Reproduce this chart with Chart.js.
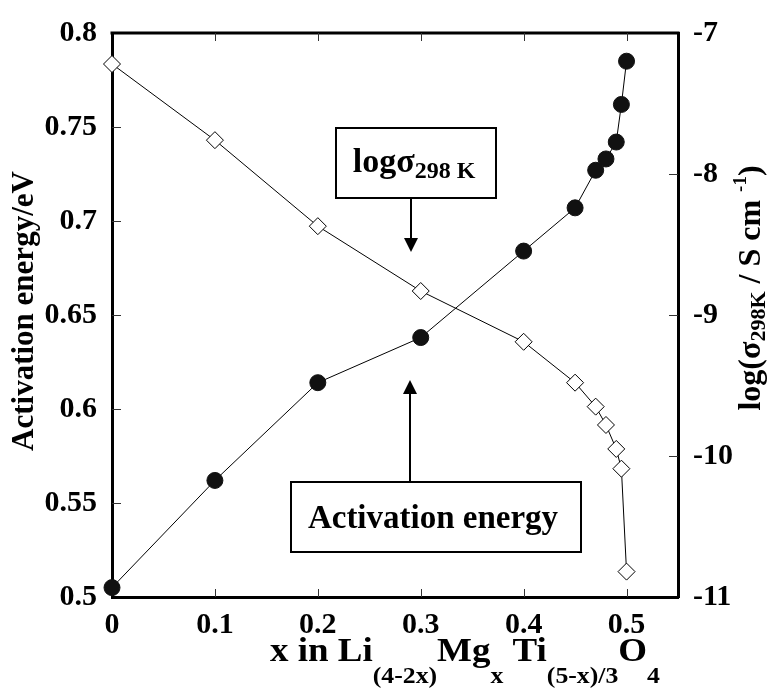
<!DOCTYPE html>
<html>
<head>
<meta charset="utf-8">
<script src="https://cdn.jsdelivr.net/npm/chart.js@4.4.0/dist/chart.umd.min.js"></script>
<style>
  html, body { margin: 0; padding: 0; background: #fff; }
  #wrap { width: 771px; height: 689px; }
</style>
</head>
<body>
<div id="wrap"><canvas id="chart" width="771" height="689"></canvas></div>
<script>
// ---- data ----
const xValues = [0, 0.1, 0.2, 0.3, 0.4, 0.45, 0.47, 0.48, 0.49, 0.495, 0.5];
const activationEnergy = [0.505, 0.562, 0.614, 0.638, 0.684, 0.707, 0.727, 0.733, 0.742, 0.762, 0.785];
const logSigma = [-7.22, -7.76, -8.37, -8.83, -9.19, -9.48, -9.65, -9.78, -9.95, -10.09, -10.82];

const xTicks = [0, 0.1, 0.2, 0.3, 0.4, 0.5];
const leftTicks = [0.5, 0.55, 0.6, 0.65, 0.7, 0.75, 0.8];
const rightTicks = [-11, -10, -9, -8, -7];

const SERIF = '"Liberation Serif", "Times New Roman", serif';
const font = (size) => 'bold ' + size + 'px ' + SERIF;

// draw a run of text pieces [text, size, baseline shift], centred on x
function drawRuns(ctx, runs, x, y, stretch) {
  stretch = stretch || 1;
  let w = 0;
  runs.forEach(r => { ctx.font = font(r[1]); w += ctx.measureText(r[0]).width; });
  ctx.save();
  ctx.translate(x, y);
  ctx.scale(stretch, 1);
  let cx = -w / 2;
  ctx.textAlign = 'left';
  ctx.textBaseline = 'alphabetic';
  runs.forEach(r => {
    ctx.font = font(r[1]);
    ctx.fillText(r[0], cx, r[2]);
    cx += ctx.measureText(r[0]).width;
  });
  ctx.restore();
}

function arrow(ctx, x, y0, y1) {
  const dir = y1 > y0 ? 1 : -1;
  ctx.beginPath();
  ctx.moveTo(x, y0);
  ctx.lineTo(x, y1 - dir * 12);
  ctx.lineWidth = 2;
  ctx.stroke();
  ctx.beginPath();
  ctx.moveTo(x, y1);
  ctx.lineTo(x - 7, y1 - dir * 14);
  ctx.lineTo(x + 7, y1 - dir * 14);
  ctx.closePath();
  ctx.fill();
}

const decorations = {
  id: 'decorations',
  afterDraw(chart) {
    const ctx = chart.ctx;
    const a = chart.chartArea;
    const sx = chart.scales.x, sy = chart.scales.y, sy1 = chart.scales.y1;
    ctx.save();
    ctx.strokeStyle = '#000';
    ctx.fillStyle = '#000';

    // top frame line
    ctx.lineWidth = 3;
    ctx.beginPath();
    ctx.moveTo(a.left - 1.5, a.top);
    ctx.lineTo(a.right + 1.5, a.top);
    ctx.stroke();

    // inward tick marks
    ctx.lineWidth = 1;
    ctx.strokeStyle = '#333';
    ctx.beginPath();
    xTicks.slice(1).forEach(v => {
      const px = Math.round(sx.getPixelForValue(v)) + 0.5;
      ctx.moveTo(px, a.bottom); ctx.lineTo(px, a.bottom - 8);
      ctx.moveTo(px, a.top); ctx.lineTo(px, a.top + 8);
    });
    leftTicks.slice(1, -1).forEach(v => {
      const py = Math.round(sy.getPixelForValue(v)) + 0.5;
      ctx.moveTo(a.left, py); ctx.lineTo(a.left + 9, py);
    });
    rightTicks.slice(1, -1).forEach(v => {
      const py = Math.round(sy1.getPixelForValue(v)) + 0.5;
      ctx.moveTo(a.right, py); ctx.lineTo(a.right - 9, py);
    });
    ctx.stroke();
    ctx.strokeStyle = '#000';

    // left axis title
    ctx.save();
    ctx.translate(25, 311);
    ctx.rotate(-Math.PI / 2);
    ctx.textBaseline = 'middle';
    ctx.textAlign = 'center';
    ctx.font = font(31);
    ctx.fillText('Activation energy/eV', 0, 0);
    ctx.restore();

    // right axis title
    ctx.save();
    ctx.translate(760, 288);
    ctx.rotate(-Math.PI / 2);
    drawRuns(ctx, [
      ['log(\u03c3', 32, 0],
      ['298K', 22, 5],
      [' / S cm ', 32, 0],
      ['-1', 19, -14],
      [')', 32, 0]
    ], 0, 0);
    ctx.restore();

    // x axis title
    drawRuns(ctx, [
      ['x in Li', 33, 0],
      ['(4-2x)', 23, 22],
      ['Mg', 33, 0],
      ['x', 23, 22],
      [' Ti', 33, 0],
      ['(5-x)/3', 23, 22],
      ['O', 33, 0],
      ['4', 23, 22]
    ], 465, 661, 1.12);

    // annotation: log sigma box
    ctx.lineWidth = 2;
    ctx.strokeRect(336, 128, 160, 70);
    drawRuns(ctx, [['log\u03c3', 34, 0], ['298 K', 24, 6]], 414, 172);
    arrow(ctx, 411, 198, 252);

    // annotation: activation energy box
    ctx.strokeRect(291, 482, 290, 70);
    ctx.font = font(33);
    ctx.textAlign = 'center';
    ctx.textBaseline = 'alphabetic';
    ctx.fillText('Activation energy', 433, 528);
    arrow(ctx, 410, 482, 380);

    ctx.restore();
  }
};

const tickFont = { family: SERIF, size: 30, weight: 'bold' };

new Chart(document.getElementById('chart'), {
  type: 'scatter',
  data: {
    datasets: [
      {
        label: 'Activation energy',
        data: xValues.map((x, i) => ({ x: x, y: activationEnergy[i] })),
        yAxisID: 'y',
        showLine: true,
        borderColor: '#000',
        borderWidth: 1,
        pointStyle: 'circle',
        pointRadius: 8,
        pointBackgroundColor: '#111',
        pointBorderColor: '#111',
        clip: false
      },
      {
        label: 'log sigma 298 K',
        data: xValues.map((x, i) => ({ x: x, y: logSigma[i] })),
        yAxisID: 'y1',
        showLine: true,
        borderColor: '#000',
        borderWidth: 1,
        pointStyle: 'rectRot',
        pointRadius: 8.5,
        pointBackgroundColor: '#fff',
        pointBorderColor: '#000',
        pointBorderWidth: 1,
        clip: false
      }
    ]
  },
  options: {
    responsive: false,
    animation: false,
    layout: { padding: { top: 29, left: 0, right: 0, bottom: 0 } },
    plugins: { legend: { display: false }, tooltip: { enabled: false } },
    scales: {
      x: {
        type: 'linear',
        min: 0, max: 0.55,
        afterBuildTicks: s => { s.ticks = xTicks.map(v => ({ value: v })); },
        afterFit: s => { s.height = 92; },
        grid: { display: false, drawTicks: false },
        border: { display: true, color: '#000', width: 3 },
        ticks: { font: tickFont, color: '#000', padding: 10, callback: v => String(v) }
      },
      y: {
        position: 'left',
        min: 0.5, max: 0.8,
        afterBuildTicks: s => { s.ticks = leftTicks.map(v => ({ value: v })); },
        afterFit: s => { s.width = 112; },
        grid: { display: false, drawTicks: false },
        border: { display: true, color: '#000', width: 3 },
        ticks: { font: tickFont, color: '#000', padding: 15, callback: v => String(v) }
      },
      y1: {
        position: 'right',
        min: -11, max: -7,
        afterBuildTicks: s => { s.ticks = rightTicks.map(v => ({ value: v })); },
        afterFit: s => { s.width = 93; },
        grid: { display: false, drawTicks: false },
        border: { display: true, color: '#000', width: 3 },
        ticks: { font: tickFont, color: '#000', padding: 15, callback: v => String(v) }
      }
    }
  },
  plugins: [decorations]
});
</script>
</body>
</html>
